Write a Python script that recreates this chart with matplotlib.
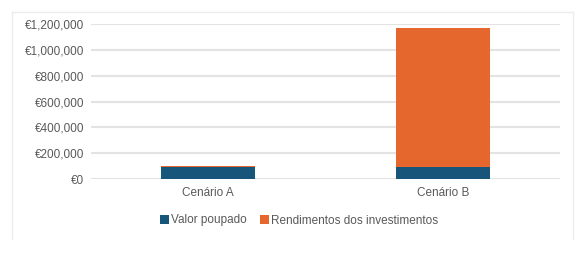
import matplotlib
matplotlib.use("Agg")
import matplotlib.pyplot as plt
from matplotlib.patches import Patch
from matplotlib.lines import Line2D
from matplotlib.ticker import FuncFormatter

categories = ["Cenário A", "Cenário B"]
valor_poupado = [96000, 96000]
rendimentos = [8000, 1078000]
series_names = ["Valor poupado", "Rendimentos dos investimentos"]
colors = ["#17557a", "#e5672d"]
yticks = [0, 200000, 400000, 600000, 800000, 1000000, 1200000]

plt.rcParams['font.family'] = ['Liberation Sans', 'DejaVu Sans']
text_color = "#595959"
fs = 8.5

fig = plt.figure(figsize=(5.82, 2.56), dpi=100)
W, H = 582, 256
ax = fig.add_axes([91 / W, 1 - 179 / H, 469 / W, 154.7 / H])

x = list(range(len(categories)))
ax.bar(x, valor_poupado, width=0.4, color=colors[0], zorder=3)
ax.bar(x, rendimentos, width=0.4, bottom=valor_poupado, color=colors[1], zorder=3)

ax.set_xlim(-0.5, 1.5)
ax.set_ylim(0, 1200000)
ax.set_yticks(yticks)
ax.yaxis.set_major_formatter(FuncFormatter(lambda v, p: "€{:,.0f}".format(v)))
ax.set_xticks(x)
ax.set_xticklabels(categories)
ax.grid(axis='y', color="#e3e3e3", linewidth=1.5, zorder=0)
ax.set_axisbelow(True)
for s in ax.spines.values():
    s.set_visible(False)
ax.tick_params(axis='both', length=0, labelsize=fs, labelcolor=text_color)
ax.tick_params(axis='y', pad=5)
ax.tick_params(axis='x', pad=6)

# outer border (top, left, right)
border_color = "#ececec"
fig.add_artist(Line2D([12 / W, 572.5 / W], [1 - 12 / H, 1 - 12 / H], color=border_color, lw=1, transform=fig.transFigure))
fig.add_artist(Line2D([12 / W, 12 / W], [1 - 12 / H, 1 - 239 / H], color=border_color, lw=1, transform=fig.transFigure))
fig.add_artist(Line2D([572.5 / W, 572.5 / W], [1 - 12 / H, 1 - 239 / H], color=border_color, lw=1, transform=fig.transFigure))

handles = [Patch(facecolor=c, edgecolor='none') for c in colors]
leg = fig.legend(handles, series_names, loc='center', bbox_to_anchor=(299 / W, 1 - 220.5 / H),
                 ncol=2, frameon=False, fontsize=fs, handlelength=0.75, handleheight=0.75,
                 handletextpad=0.2, columnspacing=1.1, borderpad=0, borderaxespad=0)
for t in leg.get_texts():
    t.set_color(text_color)

fig.savefig("out.png", dpi=100, facecolor="white")
